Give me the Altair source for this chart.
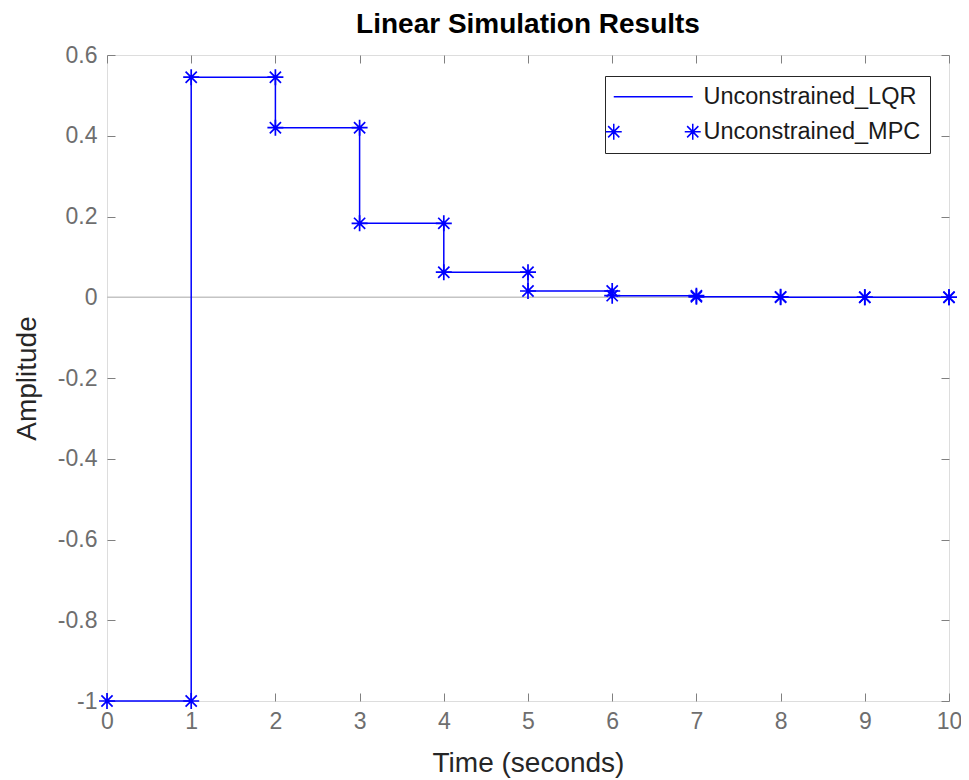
import altair as alt
import pandas as pd

# ---- data ----
time = [0, 1, 2, 3, 4, 5, 6, 7, 8, 9, 10]
lqr = [-1.0, 0.545, 0.42, 0.183, 0.062, 0.0155, 0.004, 0.001, 0.0, 0.0, 0.0]
mpc = [-1.0, 0.545, 0.42, 0.183, 0.062, 0.0155, 0.004, 0.001, 0.0, 0.0, 0.0]
series = ["Unconstrained_LQR", "Unconstrained_MPC"]
x_ticks = [0, 1, 2, 3, 4, 5, 6, 7, 8, 9, 10]
y_ticks = [-1, -0.8, -0.6, -0.4, -0.2, 0, 0.2, 0.4, 0.6]
zero_line = [0]

FONT = "Liberation Sans"
BLUE = "#0000ff"
AXC = "#808080"
W, H = 842, 646

lqr_df = pd.DataFrame({"t": time, "y": lqr})
# MPC markers sit on every vertex of the stair trace
pt_t, pt_y = [], []
for k in range(len(time)):
    pt_t.append(time[k]); pt_y.append(mpc[k])
    if k > 0:
        pt_t.append(time[k]); pt_y.append(mpc[k - 1])
mpc_df = pd.DataFrame({"t": pt_t, "y": pt_y})
zero_df = pd.DataFrame({"y": zero_line})
legend_df = pd.DataFrame({"series": series})

STAR = "M-1,0L1,0M0,-1L0,1M-0.7,-0.7L0.7,0.7M-0.7,0.7L0.7,-0.7"

# legend glyphs (unit = 5px with symbolSize 100)
def star_at(cx, a):
    d = a * 0.7
    return (f"M{cx-a},0L{cx+a},0M{cx},{-a}L{cx},{a}"
            f"M{cx-d},{-d}L{cx+d},{d}M{cx-d},{d}L{cx+d},{-d}")

LQR_GLYPH = "M-2.4,0L13.4,0"
MPC_GLYPH = star_at(-2.4, 1.6) + star_at(13.4, 1.6)

xscale = alt.Scale(domain=[0, 10], nice=False, zero=False)
yscale = alt.Scale(domain=[-1, 0.6], nice=False, zero=False)

xaxis = alt.Axis(values=x_ticks, title="Time (seconds)", labelFontSize=23, labelFont=FONT,
                 labelColor="#6e6e6e", labelPadding=9, ticks=False, domain=False,
                 grid=True, gridColor=AXC, gridWidth=1, gridDash=[8, H - 16, 8, 3000],
                 titleFontSize=28, titleFont=FONT, titleFontWeight="normal",
                 titleColor="#262626", titlePadding=16, labelFlush=False)
yaxis = alt.Axis(values=y_ticks, title="Amplitude", labelFontSize=23, labelFont=FONT,
                 labelColor="#6e6e6e", labelPadding=10, ticks=False, domain=False,
                 labelExpr="'' + datum.value",
                 grid=True, gridColor=AXC, gridWidth=1, gridDash=[8, W - 16, 8, 3000],
                 titleFontSize=28, titleFont=FONT, titleFontWeight="normal",
                 titleColor="#262626", titlePadding=16, labelFlush=False)

zero = alt.Chart(zero_df).mark_rule(color="#c4c4c4", strokeWidth=1.5).encode(
    y=alt.Y("y:Q", scale=yscale, axis=yaxis)
)

line = alt.Chart(lqr_df).mark_line(interpolate="step-after", color=BLUE, strokeWidth=1.5).encode(
    x=alt.X("t:Q", scale=xscale, axis=xaxis),
    y=alt.Y("y:Q", scale=yscale, axis=yaxis),
)

points = alt.Chart(mpc_df).mark_point(shape=STAR, size=256, filled=False, color=BLUE,
                                      strokeWidth=1.7, opacity=1).encode(
    x=alt.X("t:Q", scale=xscale, axis=xaxis),
    y=alt.Y("y:Q", scale=yscale, axis=yaxis),
)

legend_layer = alt.Chart(legend_df).mark_point(filled=False, opacity=0).encode(
    shape=alt.Shape("series:N",
                    scale=alt.Scale(domain=series, range=[LQR_GLYPH, MPC_GLYPH]),
                    legend=alt.Legend(title=None, orient="none", legendX=498, legendY=21,
                                      padding=9, strokeColor="#262626", fillColor="white",
                                      cornerRadius=0, symbolSize=100, symbolStrokeWidth=1.5,
                                      symbolStrokeColor=BLUE, symbolFillColor="transparent",
                                      symbolOpacity=1, labelFontSize=23.5, labelFont=FONT,
                                      labelColor="#1a1a1a", labelOffset=66, rowPadding=10,
                                      symbolOffset=0, labelLimit=400))
)

chart = alt.layer(zero, line, points, legend_layer).properties(
    width=W, height=H,
    title=alt.TitleParams("Linear Simulation Results", fontSize=28, font=FONT,
                          fontWeight="bold", color="#000000", offset=5, anchor="middle"),
    autosize=alt.AutoSizeParams(type="none"),
    padding={"left": 99, "top": 47, "right": 12, "bottom": 79},
).configure_view(stroke=AXC, strokeWidth=1).configure(background="white")

chart.save("out.html", embed_options={"renderer": "svg", "actions": False})
